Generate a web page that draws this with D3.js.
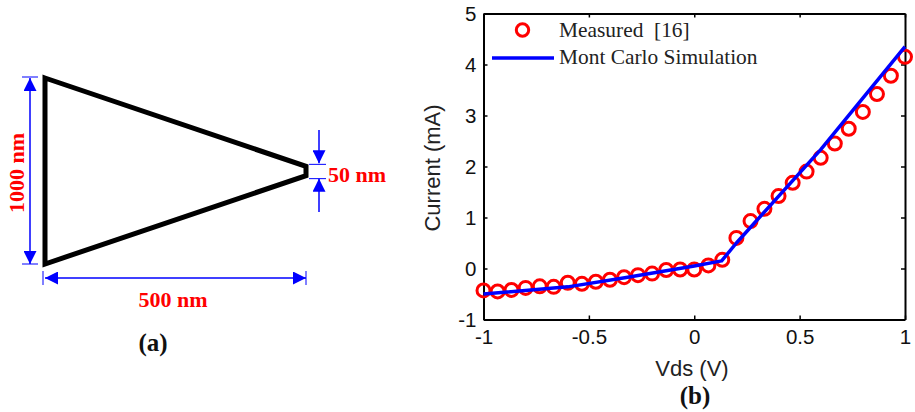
<!DOCTYPE html>
<html>
<head>
<meta charset="utf-8">
<script src="https://cdn.jsdelivr.net/npm/d3@7"></script>
<style>
  html, body { margin: 0; padding: 0; background: #fff; }
  svg { display: block; }
  .tick text { font-family: "Liberation Sans", sans-serif; font-size: 20.5px; fill: #111; }
  .axis-label { font-family: "Liberation Sans", sans-serif; font-size: 22px; fill: #222; }
  .legend { font-family: "Liberation Serif", serif; font-size: 21.4px; fill: #222; }
  .dim { font-family: "Liberation Serif", serif; font-size: 22px; font-weight: bold; fill: #f00; }
  .panel { font-family: "Liberation Serif", serif; font-size: 25px; font-weight: bold; fill: #111; }
</style>
</head>
<body>
<div id="chart"></div>
<script>
// panel (b) values
const vds = [-1, -0.933, -0.867, -0.8, -0.733, -0.667, -0.6, -0.533, -0.467, -0.4, -0.333, -0.267, -0.2, -0.133, -0.067, 0,
  0.067, 0.133, 0.2, 0.267, 0.333, 0.4, 0.467, 0.533, 0.6, 0.667, 0.733, 0.8, 0.867, 0.933, 1]
const measured = [-0.43, -0.45, -0.42, -0.38, -0.35, -0.36, -0.28, -0.3, -0.26, -0.22, -0.17, -0.13, -0.1, -0.03, -0.02, -0.02,
  0.06, 0.17, 0.6, 0.93, 1.17, 1.42, 1.68, 1.9, 2.17, 2.45, 2.74, 3.07, 3.42, 3.78, 4.15]
const simVds = [-1, -0.6, -0.33, 0, 0.13, 0.2, 0.6, 1]
const simCurrent = [-0.5, -0.36, -0.18, 0.05, 0.15, 0.5, 2.33, 4.35]
const xTicks = [-1, -0.5, 0, 0.5, 1]
const yTicks = [-1, 0, 1, 2, 3, 4, 5]

// panel (a) device outline in nm
const shapeX = [0, 500, 500, 0]
const shapeY = [500, 25, -25, -500]

const blue = "#0000ff"
const red = "#ff0000"

const svg = d3.select("#chart").append("svg")
  .attr("width", 915)
  .attr("height", 412)

// arrowheads
const defs = svg.append("defs")
defs.append("marker")
  .attr("id", "head")
  .attr("viewBox", "0 0 13 13")
  .attr("refX", 13)
  .attr("refY", 6.5)
  .attr("markerWidth", 13)
  .attr("markerHeight", 13)
  .attr("markerUnits", "userSpaceOnUse")
  .attr("orient", "auto")
  .append("path")
  .attr("d", "M0,0L13,6.5L0,13Z")
  .attr("fill", blue)
defs.append("marker")
  .attr("id", "headStart")
  .attr("viewBox", "0 0 13 13")
  .attr("refX", 0)
  .attr("refY", 6.5)
  .attr("markerWidth", 13)
  .attr("markerHeight", 13)
  .attr("markerUnits", "userSpaceOnUse")
  .attr("orient", "auto")
  .append("path")
  .attr("d", "M0,6.5L13,0L13,13Z")
  .attr("fill", blue)

// ---- panel (a) ----
let sx = d3.scaleLinear().domain([0, 500]).range([45, 306])
let sy = d3.scaleLinear().domain([-500, 500]).range([264, 78])
let a = svg.append("g")

let dims = [
  [sx(0) - 15, sy(500), sx(0) - 15, sy(-500), true],
  [sx(0), sy(-500) + 14, sx(500), sy(-500) + 14, true],
  [sx(500) + 13, 130, sx(500) + 13, sy(25) - 3, false],
  [sx(500) + 13, 212, sx(500) + 13, sy(-25) + 3, false]
]
dims.forEach(d => {
  let line = a.append("line")
    .attr("x1", d[0]).attr("y1", d[1]).attr("x2", d[2]).attr("y2", d[3])
    .attr("stroke", blue).attr("stroke-width", 1.5)
    .attr("marker-end", "url(#head)")
  if (d[4]) line.attr("marker-start", "url(#headStart)")
})

// little end bars of the dimension arrows
let bars = [
  [22, sy(500) - 1, 38, sy(500) - 1],
  [22, sy(-500), 38, sy(-500)],
  [sx(0) - 2, 271, sx(0) - 2, 285],
  [sx(500), 271, sx(500), 285],
  [309, sy(25) - 2, 326, sy(25) - 2],
  [309, sy(-25) + 3, 326, sy(-25) + 3]
]
a.selectAll(".bar").data(bars).enter().append("line")
  .attr("class", "bar")
  .attr("x1", d => d[0]).attr("y1", d => d[1]).attr("x2", d => d[2]).attr("y2", d => d[3])
  .attr("stroke", blue).attr("stroke-width", 1)

a.append("path")
  .datum(d3.range(shapeX.length))
  .attr("d", d3.line().x(i => sx(shapeX[i])).y(i => sy(shapeY[i])).curve(d3.curveLinearClosed))
  .attr("fill", "none")
  .attr("stroke", "#000")
  .attr("stroke-width", 5)
  .attr("stroke-linejoin", "miter")

a.append("text").attr("class", "dim")
  .attr("transform", "translate(24,173) rotate(-90)")
  .attr("text-anchor", "middle")
  .text("1000 nm")
a.append("text").attr("class", "dim").attr("x", 328).attr("y", 182).text("50 nm")
a.append("text").attr("class", "dim").attr("x", 173).attr("y", 307).attr("text-anchor", "middle").text("500 nm")
a.append("text").attr("class", "panel").attr("x", 153).attr("y", 351).attr("text-anchor", "middle").text("(a)")

// ---- panel (b) ----
let x = d3.scaleLinear().domain([-1, 1]).range([483.5, 905])
let y = d3.scaleLinear().domain([-1, 5]).range([319.5, 13.5])
let b = svg.append("g")

let styleAxis = g => {
  g.selectAll(".domain").attr("stroke", "#000").attr("stroke-width", 2)
  g.selectAll(".tick line").attr("stroke", "#000").attr("stroke-width", 1.5)
}

b.append("g")
  .attr("transform", "translate(0," + y(-1) + ")")
  .call(d3.axisBottom(x).tickValues(xTicks).tickSizeInner(-4).tickSizeOuter(0).tickPadding(10).tickFormat(d => d))
  .call(styleAxis)
b.append("g")
  .attr("transform", "translate(" + x(-1) + ",0)")
  .call(d3.axisLeft(y).tickValues(yTicks).tickSizeInner(-4).tickSizeOuter(0).tickPadding(7).tickFormat(d => d))
  .call(styleAxis)
b.append("g")
  .attr("transform", "translate(0," + y(5) + ")")
  .call(d3.axisTop(x).tickValues(xTicks).tickSizeInner(-4).tickSizeOuter(0).tickFormat(""))
  .call(styleAxis)
b.append("g")
  .attr("transform", "translate(" + x(1) + ",0)")
  .call(d3.axisRight(y).tickValues(yTicks).tickSizeInner(-4).tickSizeOuter(0).tickFormat(""))
  .call(styleAxis)

b.selectAll(".pt")
  .data(vds)
  .enter()
  .append("circle")
  .attr("class", "pt")
  .attr("cx", d => x(d))
  .attr("cy", (d, i) => y(measured[i]))
  .attr("r", 6.5)
  .attr("fill", "none")
  .attr("stroke", red)
  .attr("stroke-width", 3)

b.append("path")
  .datum(simVds)
  .attr("d", d3.line().x(d => x(d)).y((d, i) => y(simCurrent[i])))
  .attr("fill", "none")
  .attr("stroke", blue)
  .attr("stroke-width", 3.5)
  .attr("stroke-linejoin", "round")

// legend
b.append("circle").attr("cx", 522.5).attr("cy", 30).attr("r", 6.2)
  .attr("fill", "none").attr("stroke", red).attr("stroke-width", 3)
b.append("line").attr("x1", 492).attr("x2", 554).attr("y1", 58).attr("y2", 58)
  .attr("stroke", blue).attr("stroke-width", 3.5)
b.append("text").attr("class", "legend").attr("x", 559).attr("y", 37)
  .style("white-space", "pre").text("Measured  [16]")
b.append("text").attr("class", "legend").attr("x", 559).attr("y", 64).text("Mont Carlo Simulation")

b.append("text").attr("class", "axis-label")
  .attr("transform", "translate(440,168) rotate(-90)")
  .attr("text-anchor", "middle")
  .text("Current (mA)")
b.append("text").attr("class", "axis-label")
  .attr("x", 692).attr("y", 376).attr("text-anchor", "middle")
  .text("Vds (V)")
b.append("text").attr("class", "panel")
  .attr("x", 695).attr("y", 404).attr("text-anchor", "middle")
  .text("(b)")
</script>
</body>
</html>
